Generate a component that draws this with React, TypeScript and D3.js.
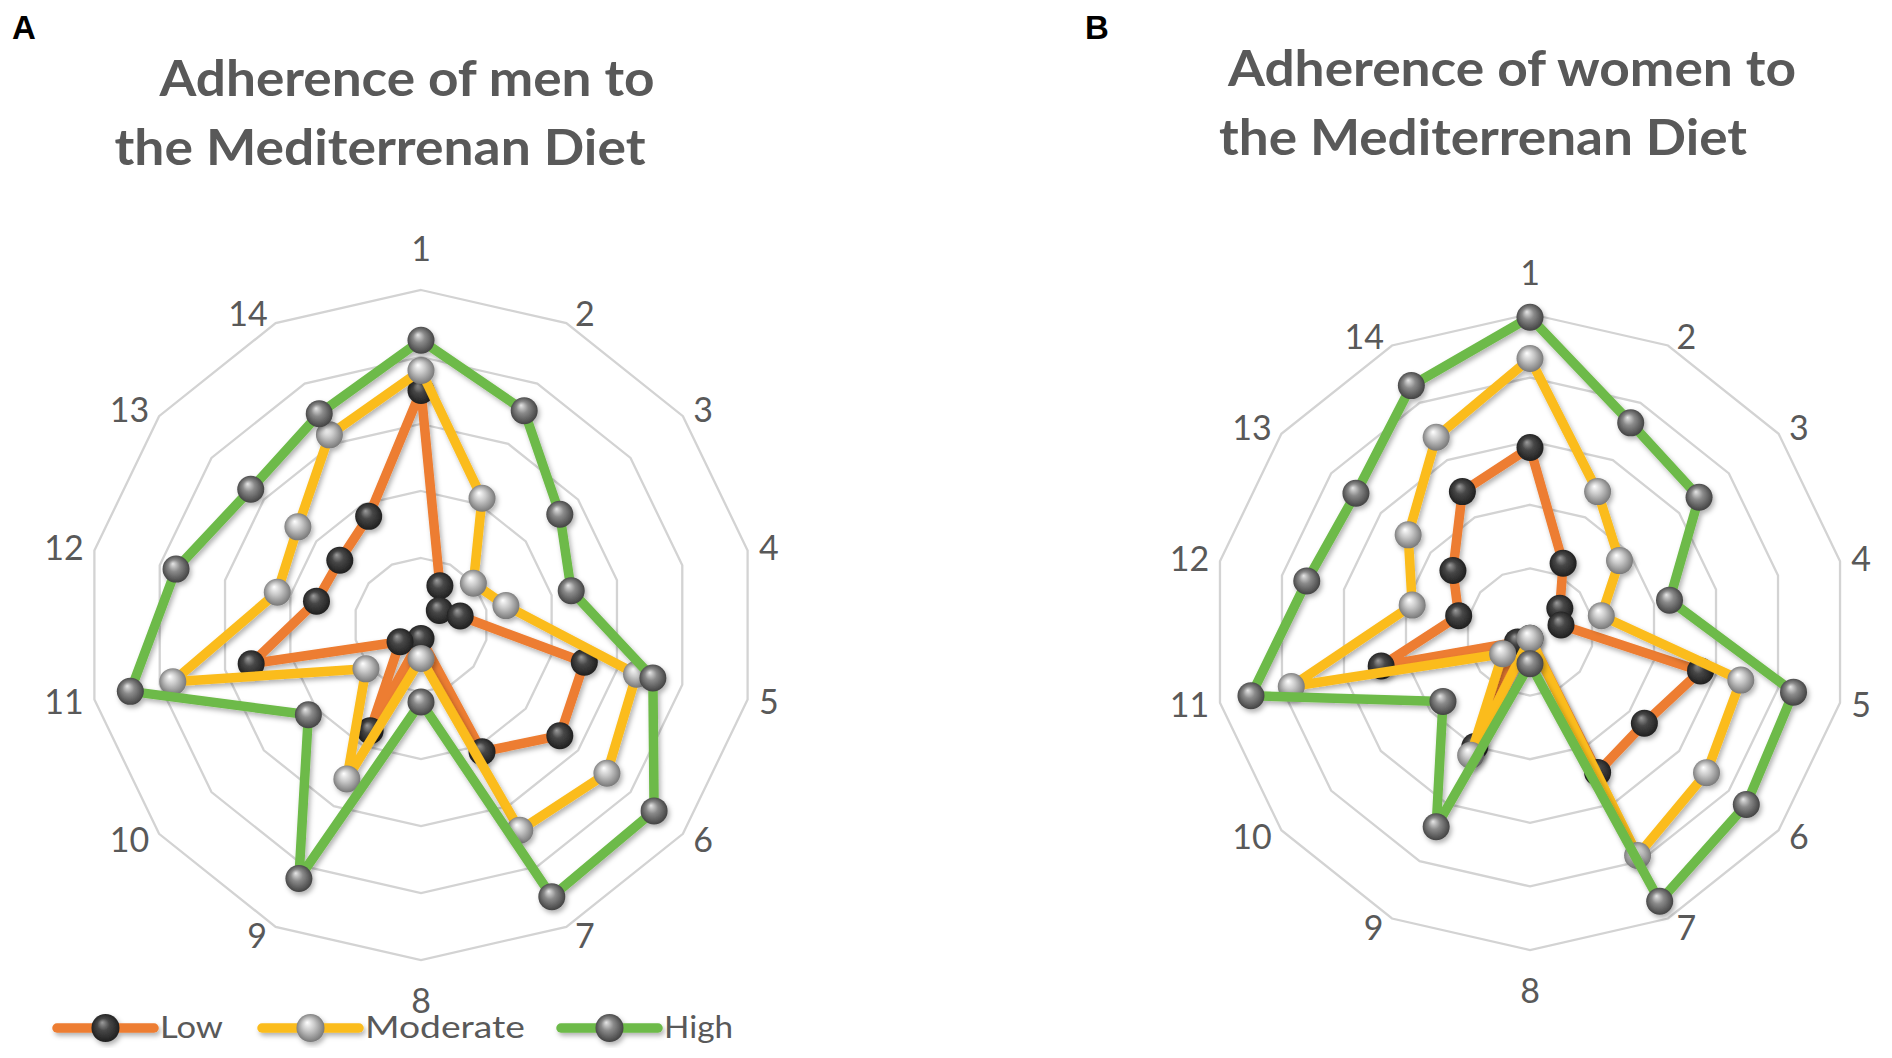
import React from 'react';
import * as d3 from 'd3';

// ---- data ----
const AXIS_LABELS = ['1', '2', '3', '4', '5', '6', '7', '8', '9', '10', '11', '12', '13', '14'];
const SERIES_NAMES = ['Low', 'Moderate', 'High'];
const SERIES_COLORS = ['#ED7D31', '#FBBC1E', '#6DBA48'];
const GRID_TICKS = [20, 40, 60, 80, 100];

const MEN_LOW = [70, 13, 7, 12, 50, 53, 42, 4, 35, 8, 52, 32, 31, 36];
const MEN_MODERATE = [76, 42, 20, 26, 66, 71, 68, 10, 51, 21, 76, 44, 47, 63];
const MEN_HIGH = [85, 71, 53, 46, 71, 89, 90, 23, 84, 43, 89, 75, 65, 70];

const WOMEN_LOW = [58, 24, 12, 10, 55, 46, 49, 2, 40, 5, 48, 23, 31, 49];
const WOMEN_MODERATE = [86, 49, 36, 23, 68, 71, 78, 2, 43, 11, 77, 38, 49, 68];
const WOMEN_HIGH = [99, 73, 68, 45, 85, 87, 94, 10, 68, 35, 90, 72, 70, 86];

const TITLE_MEN = ['Adherence of men to', 'the Mediterrenan Diet'];
const TITLE_WOMEN = ['Adherence of women to', 'the Mediterrenan Diet'];

const FONT = 'Lato, "Open Sans", sans-serif';
const TEXT_GRAY = '#595959';
const MARKER_FILLS = ['url(#gLow)', 'url(#gMod)', 'url(#gHigh)'];

type RadarProps = {
  cx: number;
  cy: number;
  R: number;
  series: number[][];
};

function Radar({ cx, cy, R, series }: RadarProps) {
  const n = AXIS_LABELS.length;
  const r = d3.scaleLinear().domain([0, 100]).range([0, R]);
  const angle = (i: number) => (i * 2 * Math.PI) / n;
  const radial = d3
    .lineRadial<number>()
    .angle((_, i) => angle(i))
    .radius((d) => r(d))
    .curve(d3.curveLinearClosed);

  const labelPos = (i: number, label: string) => {
    const a = angle(i);
    const sx = Math.sin(a);
    const sy = -Math.cos(a);
    const hw = label.length * 9.3;
    let dx = 0;
    let dy = 0;
    if (Math.abs(sx) < 0.01) {
      dy = sy * 41;
    } else {
      dx = Math.sign(sx) * (hw + 7 + 5 * Math.abs(sx));
      dy = sy * 10;
    }
    return [R * sx + dx, R * sy + dy];
  };

  return (
    <g transform={`translate(${cx},${cy})`}>
      {GRID_TICKS.map((t) => (
        <path
          key={t}
          d={radial(AXIS_LABELS.map(() => t)) || ''}
          fill="none"
          stroke="#D3D3D3"
          strokeWidth={2.3}
        />
      ))}
      {AXIS_LABELS.map((lab, i) => {
        const [x, y] = labelPos(i, lab);
        return (
          <text
            key={lab}
            x={x}
            y={y}
            dy="0.36em"
            textAnchor="middle"
            fontFamily={FONT}
            fontSize={34}
            fill={TEXT_GRAY}
          >
            {lab}
          </text>
        );
      })}
      {series.map((vals, si) => (
        <g key={si} filter="url(#shadow)">
          <path
            d={radial(vals) || ''}
            fill="none"
            stroke={SERIES_COLORS[si]}
            strokeWidth={9.5}
            strokeLinejoin="round"
          />
          {vals.map((v, i) => {
            const a = angle(i);
            return (
              <circle
                key={i}
                cx={r(v) * Math.sin(a)}
                cy={-r(v) * Math.cos(a)}
                r={13.5}
                fill={MARKER_FILLS[si]}
              />
            );
          })}
        </g>
      ))}
    </g>
  );
}

function Legend({ x, y }: { x: number; y: number }) {
  const lineLen = 97;
  const gaps = [0, 205, 504];
  const textLens = [63, 160, 69];
  return (
    <g transform={`translate(${x},${y})`}>
      {SERIES_NAMES.map((name, i) => (
        <g key={name} transform={`translate(${gaps[i]},0)`}>
          <g filter="url(#shadow)">
            <line
              x1={0}
              x2={lineLen}
              y1={0}
              y2={0}
              stroke={SERIES_COLORS[i]}
              strokeWidth={9.5}
              strokeLinecap="round"
            />
            <circle cx={lineLen / 2} cy={0} r={14} fill={MARKER_FILLS[i]} />
          </g>
          <text
            x={lineLen + 6}
            y={10}
            fontFamily={FONT}
            fontSize={31}
            fill={TEXT_GRAY}
            textLength={textLens[i]}
            lengthAdjust="spacingAndGlyphs"
          >
            {name}
          </text>
        </g>
      ))}
    </g>
  );
}

export default function App() {
  return (
    <svg
      width={1892}
      height={1058}
      viewBox="0 0 1892 1058"
      style={{ position: 'absolute', left: 0, top: 0, background: '#fff' }}
    >
      <defs>
        <radialGradient id="gLow" cx="50%" cy="50%" r="55%" fx="38%" fy="30%">
          <stop offset="0%" stopColor="#9c9c9c" />
          <stop offset="40%" stopColor="#474747" />
          <stop offset="100%" stopColor="#1a1a1a" />
        </radialGradient>
        <radialGradient id="gMod" cx="50%" cy="50%" r="55%" fx="38%" fy="30%">
          <stop offset="0%" stopColor="#ffffff" />
          <stop offset="40%" stopColor="#c9c9c9" />
          <stop offset="100%" stopColor="#6e6e6e" />
        </radialGradient>
        <radialGradient id="gHigh" cx="50%" cy="50%" r="55%" fx="38%" fy="30%">
          <stop offset="0%" stopColor="#e6e6e6" />
          <stop offset="40%" stopColor="#8a8a8a" />
          <stop offset="100%" stopColor="#3a3a3a" />
        </radialGradient>
        <filter id="shadow" x="-20%" y="-20%" width="140%" height="140%">
          <feDropShadow dx="2" dy="3" stdDeviation="2.5" floodColor="#000" floodOpacity="0.3" />
        </filter>
      </defs>

      <text x={12} y={39} fontFamily='"Liberation Sans", Arial, sans-serif' fontWeight="bold" fontSize={33} fill="#000">
        A
      </text>
      <text x={1085} y={39} fontFamily='"Liberation Sans", Arial, sans-serif' fontWeight="bold" fontSize={33} fill="#000">
        B
      </text>

      <text x={407} y={96} textAnchor="middle" fontFamily={FONT} fontWeight="bold" fontSize={49} fill={TEXT_GRAY} textLength={495} lengthAdjust="spacingAndGlyphs">
        {TITLE_MEN[0]}
      </text>
      <text x={380} y={165} textAnchor="middle" fontFamily={FONT} fontWeight="bold" fontSize={49} fill={TEXT_GRAY} textLength={531} lengthAdjust="spacingAndGlyphs">
        {TITLE_MEN[1]}
      </text>
      <text x={1512} y={86} textAnchor="middle" fontFamily={FONT} fontWeight="bold" fontSize={49} fill={TEXT_GRAY} textLength={568} lengthAdjust="spacingAndGlyphs">
        {TITLE_WOMEN[0]}
      </text>
      <text x={1483} y={155} textAnchor="middle" fontFamily={FONT} fontWeight="bold" fontSize={49} fill={TEXT_GRAY} textLength={528} lengthAdjust="spacingAndGlyphs">
        {TITLE_WOMEN[1]}
      </text>

      <Radar cx={421} cy={625} R={335} series={[MEN_LOW, MEN_MODERATE, MEN_HIGH]} />
      <Radar cx={1530} cy={632} R={318} series={[WOMEN_LOW, WOMEN_MODERATE, WOMEN_HIGH]} />

      <Legend x={57} y={1028} />
    </svg>
  );
}
